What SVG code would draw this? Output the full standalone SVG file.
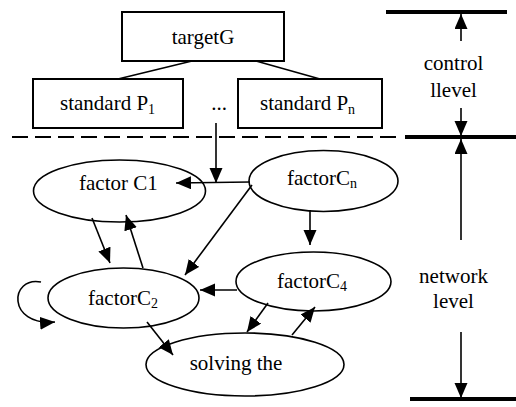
<svg xmlns="http://www.w3.org/2000/svg" width="516" height="407" viewBox="0 0 516 407">
<style>
text{font-family:'Liberation Serif','Times New Roman',serif;font-size:21px;fill:#000}
.sub{font-size:14px}
.box{fill:none;stroke:#000;stroke-width:2}
.ell{fill:none;stroke:#000;stroke-width:1.6}
.ln{fill:none;stroke:#000;stroke-width:1.6}
.arr{fill:none;stroke:#000;stroke-width:1.6;marker-end:url(#ah)}
.thick{stroke:#000;stroke-width:4}
</style>
<defs>
<marker id="ah" markerUnits="userSpaceOnUse" markerWidth="16" markerHeight="14" refX="15" refY="6.5" orient="auto">
<path d="M0,0 L15,6.5 L0,13 Z" fill="#000"/>
</marker>
</defs>
<rect width="516" height="407" fill="#fff"/>
<g id="targetG">
<rect class="box" x="122" y="12" width="162" height="49"/>
<text x="203" y="44" text-anchor="middle">targetG</text>
</g>
<g id="standardP1">
<rect class="box" x="33" y="79" width="150" height="49"/>
<text x="60" y="110">standard P<tspan class="sub" dy="4">1</tspan></text>
</g>
<g id="dots">
<text x="219" y="110" text-anchor="middle">...</text>
</g>
<g id="standardPn">
<rect class="box" x="238" y="79" width="144" height="49"/>
<text x="260" y="110">standard P<tspan class="sub" dy="4">n</tspan></text>
</g>
<g id="factorC1">
<ellipse class="ell" cx="119.5" cy="191" rx="86" ry="31"/>
<text x="79" y="190">factor C1</text>
</g>
<g id="factorCn">
<ellipse class="ell" cx="323.5" cy="181" rx="74.5" ry="30.5"/>
<text x="287" y="185">factorC<tspan class="sub" dy="3">n</tspan></text>
</g>
<g id="factorC2">
<ellipse class="ell" cx="123.5" cy="298" rx="75.5" ry="30"/>
<text x="88" y="305">factorC<tspan class="sub" dy="3">2</tspan></text>
</g>
<g id="factorC4">
<ellipse class="ell" cx="313.5" cy="281.5" rx="77.5" ry="29.5"/>
<text x="277" y="288">factorC<tspan class="sub" dy="3">4</tspan></text>
</g>
<g id="solving">
<ellipse class="ell" cx="245" cy="364.5" rx="99" ry="31.5"/>
<text x="236" y="370" text-anchor="middle">solving the</text>
</g>
<g id="levels">
<text x="453.5" y="70" text-anchor="middle">control</text>
<text x="453.5" y="97" text-anchor="middle">llevel</text>
<text x="453.5" y="283" text-anchor="middle">network</text>
<text x="453.5" y="308" text-anchor="middle">level</text>
</g>
<g id="connectors">
<line class="ln" x1="192" y1="61" x2="118" y2="79"/>
<line class="ln" x1="256" y1="61" x2="320" y2="79"/>
<line x1="12" y1="137" x2="403" y2="137" stroke="#000" stroke-width="2" stroke-dasharray="16 7"/>
<line class="thick" x1="405" y1="137" x2="516" y2="137"/>
<line class="thick" x1="386" y1="12" x2="507" y2="12"/>
<line class="thick" x1="410" y1="399" x2="516" y2="399"/>
<line class="arr" x1="461" y1="41" x2="461" y2="14"/>
<line class="arr" x1="461" y1="108" x2="461" y2="136"/>
<line class="arr" x1="461" y1="240" x2="461" y2="139"/>
<line class="arr" x1="461" y1="332" x2="461" y2="398"/>
<line class="arr" x1="216" y1="123" x2="216" y2="183"/>
<line class="arr" x1="250" y1="182" x2="176" y2="183"/>
<line class="arr" x1="252" y1="185" x2="185" y2="275"/>
<line class="arr" x1="310" y1="210" x2="310" y2="245"/>
<line class="arr" x1="92" y1="218" x2="110" y2="263"/>
<line class="arr" x1="143" y1="268" x2="126" y2="215"/>
<line class="arr" x1="237" y1="290" x2="200" y2="290"/>
<path class="arr" d="M41,282 C10,276 6,326 55,322"/>
<line class="arr" x1="268" y1="303" x2="247" y2="332"/>
<line class="arr" x1="292" y1="335" x2="315" y2="307"/>
<line class="arr" x1="147" y1="322" x2="173" y2="355"/>
</g>
</svg>
